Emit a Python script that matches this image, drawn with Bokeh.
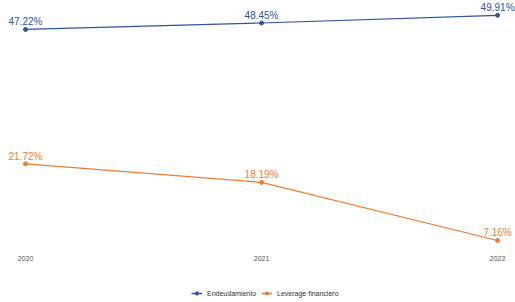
from bokeh.plotting import figure
from bokeh.layouts import column
from bokeh.models import Range1d, Legend, LegendItem, ColumnDataSource, FixedTicker
from bokeh.core.properties import value
from bokeh.embed import file_html
from bokeh.resources import INLINE

years = [2020, 2021, 2022]
endeudamiento = [47.22, 48.45, 49.91]
leverage = [21.72, 18.19, 7.16]
series_names = ["Endeudamiento", "Leverage financiero"]
colors = ["#2F5597", "#ED7D31"]

p = figure(width=515, height=276, output_backend="svg", toolbar_location=None,
           x_range=Range1d(2019.894, 2022.076), y_range=Range1d(6.59, 52.72),
           min_border_left=0, min_border_right=0, min_border_top=0, min_border_bottom=33)
p.outline_line_color = None
p.xgrid.visible = False
p.ygrid.visible = False
p.yaxis.visible = False
p.xaxis.ticker = FixedTicker(ticks=years)
p.xaxis.axis_line_color = None
p.xaxis.major_tick_line_color = None
p.xaxis.minor_tick_line_color = None
p.xaxis.major_label_text_font = "Liberation Sans"
p.xaxis.major_label_text_font_size = "7px"
p.xaxis.major_label_text_color = "#555555"
p.xaxis.major_label_standoff = 6

# legend strip (its ranges keep the real series out of view; only the legend shows)
q = figure(width=515, height=26, output_backend="svg", toolbar_location=None,
           x_range=Range1d(0, 1), y_range=Range1d(0, 1),
           min_border_left=0, min_border_right=0, min_border_top=0, min_border_bottom=0)
q.outline_line_color = None
q.xgrid.visible = False
q.ygrid.visible = False
q.xaxis.visible = False
q.yaxis.visible = False

items = []
for vals, name, c in zip([endeudamiento, leverage], series_names, colors):
    src = ColumnDataSource(dict(x=years, y=vals, lab=[f"{v:.2f}%" for v in vals]))
    p.line("x", "y", source=src, line_color=c, line_width=1.2)
    p.scatter("x", "y", source=src, size=4, fill_color=c, line_color=c)
    p.text("x", "y", text="lab", source=src, text_color=c, text_font=value("Liberation Sans"),
           text_font_size="10px", text_align="center", text_baseline="bottom", y_offset=-2)
    l = q.line("x", "y", source=src, line_color=c, line_width=1.5)
    s = q.scatter("x", "y", source=src, size=5, fill_color=c, line_color=c)
    items.append(LegendItem(label=name, renderers=[l, s]))

legend = Legend(items=items, orientation="horizontal", location=(191, 5),
                label_text_font="Liberation Sans", label_text_font_size="7px",
                label_text_color="#333333", glyph_width=11, glyph_height=8,
                label_standoff=5, spacing=5, border_line_color=None,
                padding=2, margin=0, background_fill_alpha=0, label_height=8)
q.add_layout(legend, "center")

layout = column(p, q, spacing=0)
open("out.html", "w").write(file_html(layout, INLINE))
